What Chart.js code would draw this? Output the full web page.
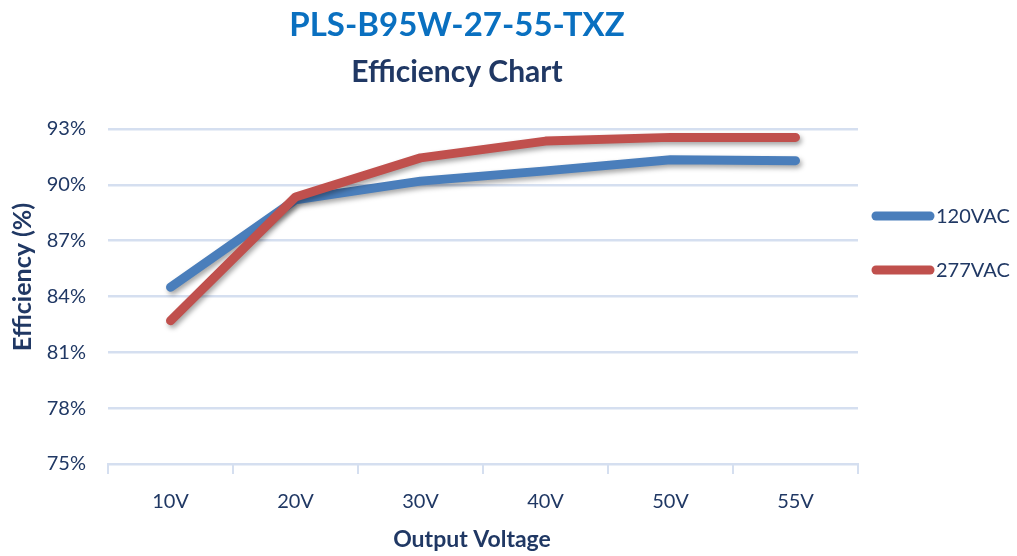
<!DOCTYPE html>
<html>
<head>
<meta charset="utf-8">
<script src="https://cdn.jsdelivr.net/npm/chart.js@4"></script>
<style>
  html, body { margin: 0; padding: 0; background: #fff; }
  #wrap { width: 1017px; height: 556px; }
</style>
</head>
<body>
<div id="wrap"><canvas id="chart" width="1017" height="556"></canvas></div>
<script>
const voltages = ['10V', '20V', '30V', '40V', '50V', '55V']
const eff120 = [84.5, 89.2, 90.2, 90.75, 91.35, 91.3]
const eff277 = [82.7, 89.35, 91.45, 92.35, 92.55, 92.55]
const seriesNames = ['120VAC', '277VAC']

const navy = '#203864'
const gridBlue = '#d5dff0'
const font = 'Lato'

// titles are drawn by hand so they sit where the original puts them
const titlePlugin = {
    id: 'titles',
    afterDraw(chart) {
        const ctx = chart.ctx
        ctx.save()
        ctx.textAlign = 'center'
        ctx.textBaseline = 'middle'
        ctx.fillStyle = '#0a70c0'
        ctx.font = `bold 33px ${font}`
        ctx.fillText('PLS-B95W-27-55-TXZ', 457, 25)
        ctx.fillStyle = navy
        ctx.font = `bold 30px ${font}`
        ctx.fillText('Efficiency Chart', 457, 72)
        ctx.font = `bold 23px ${font}`
        ctx.fillText('Output Voltage', 472, 540)
        ctx.translate(23, 277)
        ctx.rotate(-Math.PI / 2)
        ctx.font = `bold 25px ${font}`
        ctx.fillText('Efficiency (%)', 0, 0)
        ctx.restore()
    }
}

const legendPlugin = {
    id: 'sideLegend',
    afterDraw(chart) {
        const ctx = chart.ctx
        ctx.save()
        chart.data.datasets.forEach((ds, i) => {
            const y = 216 + i * 54
            ctx.strokeStyle = ds.borderColor
            ctx.lineWidth = 9
            ctx.lineCap = 'round'
            ctx.beginPath()
            ctx.moveTo(876, y)
            ctx.lineTo(930, y)
            ctx.stroke()
            ctx.fillStyle = navy
            ctx.font = `20px ${font}`
            ctx.textBaseline = 'middle'
            ctx.fillText(ds.label, 936, y + 1)
        })
        ctx.restore()
    }
}

const shadowPlugin = {
    id: 'lineShadow',
    beforeDatasetDraw(chart) {
        const ctx = chart.ctx
        ctx.save()
        ctx.shadowColor = 'rgba(0,0,0,0.35)'
        ctx.shadowBlur = 5
        ctx.shadowOffsetX = 2
        ctx.shadowOffsetY = 3
    },
    afterDatasetDraw(chart) {
        chart.ctx.restore()
    }
}

new Chart('chart', {
    type: 'line',
    data: {
        labels: voltages,
        datasets: [{
            label: seriesNames[0],
            data: eff120,
            borderColor: '#4a7ebb',
            backgroundColor: '#4a7ebb',
            order: 1
        }, {
            label: seriesNames[1],
            data: eff277,
            borderColor: '#c0504d',
            backgroundColor: '#c0504d',
            order: 0
        }]
    },
    options: {
        responsive: false,
        animation: false,
        elements: {
            line: { borderWidth: 9, borderCapStyle: 'round', borderJoinStyle: 'round', tension: 0 },
            point: { radius: 0, hoverRadius: 0 }
        },
        layout: { padding: { top: 129, right: 159, bottom: 26, left: 8 } },
        plugins: {
            legend: { display: false },
            tooltip: { enabled: false }
        },
        scales: {
            x: {
                offset: true,
                grid: { offset: true, drawOnChartArea: false, color: gridBlue, lineWidth: 2, tickLength: 10 },
                border: { color: gridBlue, width: 2 },
                ticks: { color: navy, font: { family: font, size: 20 }, padding: 16 }
            },
            y: {
                min: 75,
                max: 93,
                afterFit(scale) { scale.width = 100 },
                grid: { color: gridBlue, lineWidth: 2.5, drawTicks: false },
                border: { display: false },
                ticks: { stepSize: 3, color: navy, font: { family: font, size: 20 }, padding: 22, callback: v => v + '%' }
            }
        }
    },
    plugins: [titlePlugin, legendPlugin, shadowPlugin]
})
</script>
</body>
</html>
